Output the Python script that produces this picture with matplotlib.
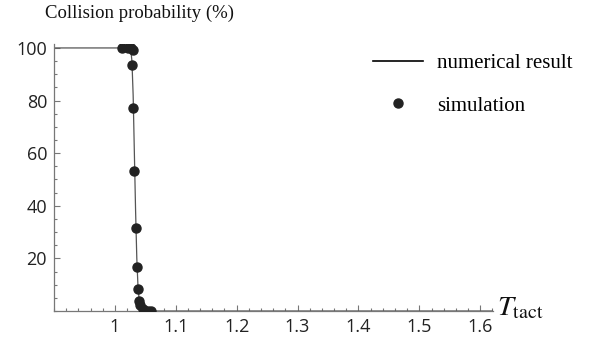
import matplotlib.pyplot as plt
from matplotlib.ticker import MultipleLocator, FixedLocator

# numerical result (collision probability curve)
t_num = [0.9, 1.020, 1.026, 1.028, 1.030, 1.032, 1.034, 1.036, 1.038, 1.040, 1.043, 1.047, 1.050, 1.62]
p_num = [100, 100, 99.5, 95, 82, 60, 38, 20, 9, 4, 1.5, 0.3, 0, 0]

# simulation points
t_sim = [1.011, 1.021, 1.026, 1.029, 1.028, 1.030, 1.032, 1.034, 1.036, 1.038, 1.040, 1.042, 1.046, 1.050, 1.055, 1.060]
p_sim = [100, 100, 100, 99.3, 93.4, 77, 53.3, 31.7, 16.9, 8.3, 3.8, 2.3, 0.6, 0.1, 0, 0]

x_ticks = [1.0, 1.1, 1.2, 1.3, 1.4, 1.5, 1.6]
x_labels = ['1', '1.1', '1.2', '1.3', '1.4', '1.5', '1.6']
y_ticks = [20, 40, 60, 80, 100]

plt.rcParams['mathtext.fontset'] = 'stix'
serif = 'Liberation Serif'
sans = 'Open Sans'

fig = plt.figure(figsize=(5.89, 3.40), dpi=100)
ax = fig.add_axes([54/589, 1-311/340, (493-54)/589, (311-44)/340])

line, = ax.plot(t_num, p_num, color='#555555', lw=0.9, zorder=2)
dots, = ax.plot(t_sim, p_sim, 'o', color='#222222', ms=6.5, zorder=3)

ax.set_xlim(0.9, 1.621)
ax.set_ylim(0, 101.5)

for s in ['top', 'right']:
    ax.spines[s].set_visible(False)
for s in ['left', 'bottom']:
    ax.spines[s].set_color('#777777')
    ax.spines[s].set_linewidth(0.9)

ax.xaxis.set_major_locator(FixedLocator(x_ticks))
ax.set_xticklabels(x_labels)
ax.xaxis.set_minor_locator(MultipleLocator(0.02))
ax.yaxis.set_major_locator(FixedLocator(y_ticks))
ax.yaxis.set_minor_locator(MultipleLocator(5))

ax.tick_params(which='both', direction='in', color='#777777', width=0.8,
               labelsize=13, labelcolor='#222222')
ax.tick_params(which='major', length=4, pad=5)
ax.tick_params(which='minor', length=2)
for lab in ax.get_xticklabels() + ax.get_yticklabels():
    lab.set_fontfamily(sans)

fig.text(45/589, 1-13/340, 'Collision probability (%)', family=serif, fontsize=13.5,
         va='center', ha='left', color='#111111')
fig.text(497/589, 1-307/340, r'$T_{\mathrm{tact}}$', fontsize=20.5, va='center', ha='left',
         color='#111111')

leg = ax.legend([line, dots], ['numerical result', 'simulation'], loc='upper left',
                bbox_to_anchor=(356/589, 1-37/340), bbox_transform=fig.transFigure,
                frameon=False, prop={'family': serif, 'size': 15}, handlelength=2.4,
                labelspacing=1.1, handletextpad=0.7, borderpad=0.3)
leg.get_lines()[0].set_color('black')
leg.get_lines()[0].set_linewidth(1.2)

fig.savefig('out.png', dpi=100)
